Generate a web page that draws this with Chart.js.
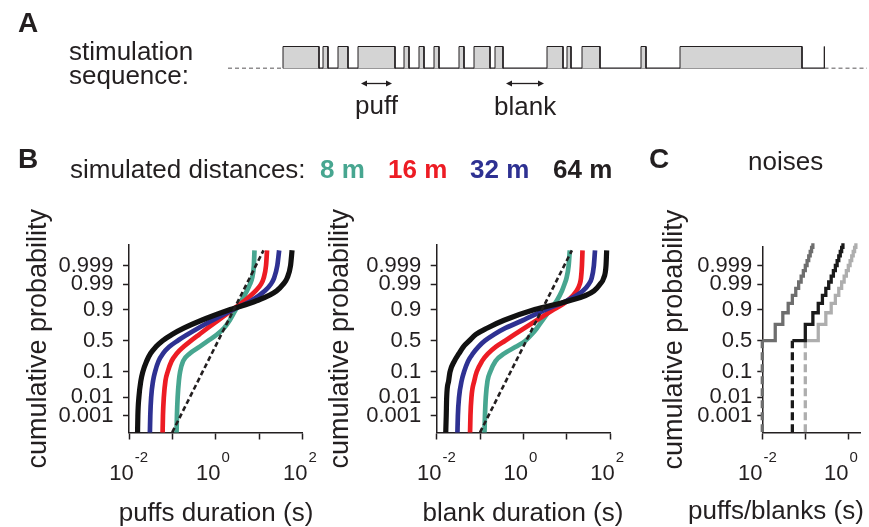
<!DOCTYPE html>
<html>
<head>
<meta charset="utf-8">
<script src="https://cdn.jsdelivr.net/npm/chart.js@4.4.1/dist/chart.umd.min.js"></script>
<style>
  html, body { margin: 0; padding: 0; background: #fff; }
  #fig { position: relative; width: 869px; height: 527px; overflow: hidden;
         font-family: "Liberation Sans", Arial, sans-serif; color: #231f20; }
  #fig canvas { position: absolute; left: 0; top: 0; }
  .t { position: absolute; white-space: nowrap; line-height: 1; font-size: 26px; }
  .c { width: 300px; text-align: center; }
  .b { font-weight: bold; }
  .panel { font-weight: bold; font-size: 28px; }
</style>
</head>
<body>
<div id="fig">
  <canvas id="seq" width="869" height="527"></canvas>
  <canvas id="puffs" width="869" height="527"></canvas>
  <canvas id="blanks" width="869" height="527"></canvas>
  <canvas id="noise" width="869" height="527"></canvas>

  <div class="t panel" style="left:18px; top:9px">A</div>
  <div class="t" style="left:69px; top:38px">stimulation</div>
  <div class="t" style="left:69px; top:62px">sequence:</div>
  <div class="t" style="left:355px; top:92px">puff</div>
  <div class="t" style="left:494px; top:93px">blank</div>

  <div class="t panel" style="left:18px; top:145px">B</div>
  <div class="t" style="left:70px; top:156px">simulated distances:</div>
  <div class="t b" style="left:320px; top:156px; color:#47a690">8 m</div>
  <div class="t b" style="left:388px; top:156px; color:#ed1c24">16 m</div>
  <div class="t b" style="left:470px; top:156px; color:#2e3192">32 m</div>
  <div class="t b" style="left:553px; top:156px; color:#231f20">64 m</div>

  <div class="t panel" style="left:649px; top:145px">C</div>
  <div class="t" style="left:748px; top:148px">noises</div>

  <div class="t c" style="left:66px; top:499px">puffs duration (s)</div>
  <div class="t c" style="left:373px; top:499px">blank duration (s)</div>
  <div class="t" style="left:688px; top:497px">puffs/blanks (s)</div>
</div>

<script>
// ---- panel A: stimulation sequence (time in arbitrary units) ----
const puffOnsets  = [0.0, 4.0, 5.5, 7.5, 12.1, 13.6, 15.1, 17.6, 19.1, 21.2, 26.4, 28.4, 29.9, 35.8, 39.7, 54.1];
const puffOffsets = [3.6, 4.5, 6.5, 11.2, 12.6, 14.1, 15.6, 18.1, 20.7, 22.0, 28.0, 28.8, 31.7, 36.3, 51.9, 54.15];
const seqView = [-5.5, 58.4];

// ---- panel B: cumulative distributions, simulated distances ----
const probLevels = [0.00005, 0.001, 0.01, 0.05, 0.1, 0.2, 0.3, 0.4, 0.5, 0.6, 0.7, 0.8, 0.9, 0.95, 0.98, 0.99, 0.995, 0.999, 0.9999];

// puff durations (s) at each probability level
const puff8m  = [0.124, 0.127, 0.132, 0.141, 0.150, 0.176, 0.251, 0.417, 0.668, 1.06, 1.55, 2.09, 2.88, 3.85, 5.19, 6.10, 6.84, 7.50, 7.76];
const puff16m = [0.0592, 0.0605, 0.0634, 0.0692, 0.0776, 0.0955, 0.126, 0.180, 0.269, 0.412, 0.653, 1.135, 2.43, 4.57, 8.22, 11.0, 12.6, 14.3, 15.1];
const puff32m = [0.0302, 0.0309, 0.0324, 0.0359, 0.0398, 0.0479, 0.0610, 0.0843, 0.132, 0.221, 0.398, 0.841, 2.48, 6.53, 13.5, 18.4, 21.9, 26.0, 28.7];
const puff64m = [0.0157, 0.0160, 0.0169, 0.0188, 0.0208, 0.0255, 0.0314, 0.0416, 0.0594, 0.0975, 0.187, 0.471, 2.15, 8.61, 25.1, 35.6, 43.7, 52.5, 56.9];

// blank durations (s) at each probability level
const blank8m  = [0.126, 0.130, 0.136, 0.149, 0.172, 0.228, 0.366, 0.668, 1.12, 1.55, 2.07, 2.76, 4.20, 5.90, 7.80, 8.90, 9.90, 11.1, 11.8];
const blank16m = [0.0587, 0.0601, 0.0634, 0.0738, 0.0838, 0.111, 0.155, 0.230, 0.380, 0.624, 1.07, 2.04, 5.01, 10.5, 17.0, 20.0, 21.4, 22.5, 23.2];
const blank32m = [0.030, 0.0308, 0.0328, 0.0377, 0.0428, 0.0529, 0.0689, 0.0916, 0.130, 0.210, 0.391, 0.982, 3.28, 10.0, 23.8, 32.2, 37.8, 42.4, 45.1];
const blank64m = [0.0161, 0.0166, 0.0170, 0.0189, 0.0203, 0.0256, 0.0328, 0.0412, 0.0568, 0.0794, 0.148, 0.358, 1.83, 11.4, 42.7, 58.8, 71.4, 80.9, 83.8];

// dashed reference (log-normal) lines
const refProbs = [0.00008, 0.9999];
const refPuff  = [0.099, 12.5];
const refBlank = [0.100, 13.2];

// ---- panel C: noise stimuli, stepped distributions ----
const noiseProbs = [0.5, 0.75, 0.875, 0.9375, 0.96875, 0.984375, 0.9921875, 0.99609, 0.99805, 0.99902, 0.99951, 0.99976, 0.99988, 0.99994, 0.99997];
const noiseFast = [0.01, 0.02, 0.03, 0.04, 0.05, 0.06, 0.07, 0.08, 0.09, 0.10, 0.11, 0.12, 0.13, 0.14, 0.15];
const noiseMid  = [0.05, 0.10, 0.15, 0.20, 0.25, 0.30, 0.35, 0.40, 0.45, 0.50, 0.55, 0.60, 0.65, 0.70, 0.75];
const noiseSlow = [0.1, 0.2, 0.3, 0.4, 0.5, 0.6, 0.7, 0.8, 0.9, 1.0, 1.1, 1.2, 1.3, 1.4, 1.5];
const noiseFloor = 0.00001;

// axis ticks
const yTickProbs  = [0.001, 0.01, 0.1, 0.5, 0.9, 0.99, 0.999];
const yTickLabels = ['0.001', '0.01', '0.1', '0.5', '0.9', '0.99', '0.999'];
const xDecadesB = [-2, -1, 0, 1, 2];
const xLabelExpB = [-2, 0, 2];
const xDecadesC = [-2, -1, 0];
const xLabelExpC = [-2, 0];

const INK = '#231f20';
const FONT = '"Liberation Sans", Arial, sans-serif';
const COL = { d8: '#47a690', d16: '#ed1c24', d32: '#2e3192', d64: '#111111' };

Chart.defaults.font.family = FONT;
Chart.defaults.color = INK;

// inverse normal CDF (Acklam), gives the probit axis
function probit(p) {
  const a = [-39.69683028665376, 220.9460984245205, -275.9285104469687, 138.3577518672690, -30.66479806614716, 2.506628277459239];
  const b = [-54.47609879822406, 161.5858368580409, -155.6989798598866, 66.80131188771972, -13.28068155288572];
  const c = [-0.007784894002430293, -0.3223964580411365, -2.400758277161838, -2.549732539343734, 4.374664141464968, 2.938163982698783];
  const d = [0.007784695709041462, 0.3224671290700398, 2.445134137142996, 3.754408661907416];
  const lo = 0.02425;
  if (p < lo) {
    const q = Math.sqrt(-2 * Math.log(p));
    return (((((c[0]*q+c[1])*q+c[2])*q+c[3])*q+c[4])*q+c[5]) / ((((d[0]*q+d[1])*q+d[2])*q+d[3])*q+1);
  }
  if (p > 1 - lo) {
    const q = Math.sqrt(-2 * Math.log(1 - p));
    return -(((((c[0]*q+c[1])*q+c[2])*q+c[3])*q+c[4])*q+c[5]) / ((((d[0]*q+d[1])*q+d[2])*q+d[3])*q+1);
  }
  const q = p - 0.5, r = q * q;
  return (((((a[0]*r+a[1])*r+a[2])*r+a[3])*r+a[4])*r+a[5])*q / (((((b[0]*r+b[1])*r+b[2])*r+b[3])*r+b[4])*r+1);
}

const toPoints = (durs, probs) => durs.map((x, i) => ({ x: x, y: probit(probs[i]) }));

// ---------------- panel A ----------------
const puffPoints = [];
puffOnsets.forEach((on, i) => {
  puffPoints.push({ x: on, y: 0 }, { x: on, y: 1 }, { x: puffOffsets[i], y: 1 }, { x: puffOffsets[i], y: 0 });
});
const lastOff = puffOffsets[puffOffsets.length - 1];

// double arrows under one puff and one blank
const arrowPlugin = {
  id: 'arrows',
  afterDraw(chart) {
    const { ctx, chartArea } = chart;
    const sx = chart.scales.x;
    const y = chartArea.bottom + 15;
    const spans = [[puffOnsets[3], puffOffsets[3]], [puffOffsets[9], puffOnsets[10]]];
    ctx.save();
    ctx.strokeStyle = INK; ctx.fillStyle = INK; ctx.lineWidth = 1.3;
    spans.forEach(([a, b]) => {
      const x0 = sx.getPixelForValue(a) + 3, x1 = sx.getPixelForValue(b) - 3;
      ctx.beginPath(); ctx.moveTo(x0 + 4, y); ctx.lineTo(x1 - 4, y); ctx.stroke();
      ctx.beginPath(); ctx.moveTo(x0, y); ctx.lineTo(x0 + 6, y - 3); ctx.lineTo(x0 + 6, y + 3); ctx.fill();
      ctx.beginPath(); ctx.moveTo(x1, y); ctx.lineTo(x1 - 6, y - 3); ctx.lineTo(x1 - 6, y + 3); ctx.fill();
    });
    ctx.restore();
  }
};

new Chart(document.getElementById('seq'), {
  type: 'line',
  data: {
    datasets: [
      { data: puffPoints, borderColor: INK, borderWidth: 1, backgroundColor: '#d4d4d4', fill: 'origin', tension: 0 },
      { data: [{ x: puffOnsets[0], y: 0 }, { x: lastOff, y: 0 }], borderColor: INK, borderWidth: 1.8 },
      { data: [{ x: seqView[0], y: 0 }, { x: puffOnsets[0], y: 0 }], borderColor: INK, borderWidth: 1.5, borderDash: [4, 3] },
      { data: [{ x: lastOff, y: 0 }, { x: seqView[1], y: 0 }], borderColor: INK, borderWidth: 1.5, borderDash: [4, 3] }
    ]
  },
  options: {
    responsive: false, animation: false,
    layout: { padding: { left: 228, right: 2, top: 44.3, bottom: 458.5 } },
    elements: { point: { radius: 0 } },
    plugins: { legend: { display: false }, tooltip: { enabled: false } },
    scales: {
      x: { type: 'linear', min: seqView[0], max: seqView[1], display: false },
      y: { min: 0, max: 1.1, display: false }
    }
  },
  plugins: [arrowPlugin]
});

// ---------------- probit plots ----------------
// "10" with a raised exponent under the labelled decades
const powerLabels = {
  id: 'powerLabels',
  afterDraw(chart, args, o) {
    const { ctx } = chart;
    const sx = chart.scales.x;
    const base = sx.top;
    ctx.save();
    ctx.fillStyle = INK;
    ctx.textBaseline = 'alphabetic';
    o.exps.forEach(e => {
      const px = sx.getPixelForValue(Math.pow(10, e)) + o.shift;
      ctx.font = o.size + 'px ' + FONT;
      ctx.textAlign = 'center';
      ctx.fillText('10', px, base + o.base);
      const w = ctx.measureText('10').width;
      ctx.font = o.expSize + 'px ' + FONT;
      ctx.textAlign = 'left';
      ctx.fillText(String(e), px + w / 2 + 1, base + o.expBase);
    });
    ctx.restore();
  }
};

function probitChart(id, cfg) {
  return new Chart(document.getElementById(id), {
    type: 'line',
    data: { datasets: cfg.datasets },
    options: {
      responsive: false, animation: false,
      layout: { padding: { left: cfg.left, top: cfg.top, right: 869 - cfg.right, bottom: 0 } },
      elements: { point: { radius: 0 } },
      plugins: {
        legend: { display: false }, tooltip: { enabled: false },
        powerLabels: { exps: cfg.labelExps, shift: cfg.labelShift, size: 22, expSize: 15, base: 47.5, expBase: 29.5 }
      },
      scales: {
        x: {
          type: 'logarithmic', min: cfg.xMin, max: cfg.xMax,
          afterBuildTicks: s => { s.ticks = cfg.decades.map(e => ({ value: Math.pow(10, e) })); },
          afterFit: s => { s.height = 527 - cfg.bottom; },
          border: { color: INK, width: 1.5 },
          grid: { drawOnChartArea: false, tickLength: 7, tickWidth: 1.5, tickColor: INK },
          ticks: { autoSkip: false, callback: () => '' }
        },
        y: {
          type: 'linear', min: cfg.zMin, max: cfg.zMax,
          afterBuildTicks: s => { s.ticks = yTickProbs.map(p => ({ value: probit(p) })); },
          afterFit: s => { s.width = cfg.axisX - cfg.left; },
          border: { color: INK, width: 1.5 },
          grid: { drawOnChartArea: false, tickLength: cfg.tickLen, tickWidth: 1.5, tickColor: INK },
          ticks: { autoSkip: false, padding: cfg.tickPad, color: INK, font: { size: cfg.tickSize },
                   callback: (v, i) => yTickLabels[i] },
          title: { display: true, text: 'cumulative probability', color: INK, font: { size: 27 },
                   padding: { top: cfg.yTitlePad, bottom: 0 } }
        }
      }
    },
    plugins: [powerLabels]
  });
}

const CLIP = { left: 6, right: 6, top: 14, bottom: 0 };
function distanceSets(series, ref) {
  return [
    { data: toPoints(ref, refProbs), borderColor: INK, borderWidth: 2.6, borderDash: [5, 3], clip: CLIP },
    { data: toPoints(series[3], probLevels), borderColor: COL.d64, borderWidth: 5.2, cubicInterpolationMode: 'monotone', clip: CLIP },
    { data: toPoints(series[2], probLevels), borderColor: COL.d32, borderWidth: 4.7, cubicInterpolationMode: 'monotone', clip: CLIP },
    { data: toPoints(series[1], probLevels), borderColor: COL.d16, borderWidth: 4.7, cubicInterpolationMode: 'monotone', clip: CLIP },
    { data: toPoints(series[0], probLevels), borderColor: COL.d8, borderWidth: 4.7, cubicInterpolationMode: 'monotone', clip: CLIP }
  ];
}

probitChart('puffs', {
  left: 0, axisX: 129, right: 302.7, top: 245, bottom: 432.5,
  xMin: 0.01, xMax: 100, zMin: -3.78, zMax: 3.94,
  decades: xDecadesB, labelExps: xLabelExpB, labelShift: -7.5,
  tickLen: 6, tickPad: 9.5, tickSize: 22, yTitlePad: 22,
  datasets: distanceSets([puff8m, puff16m, puff32m, puff64m], refPuff)
});

probitChart('blanks', {
  left: 310, axisX: 436.7, right: 610, top: 245, bottom: 432.5,
  xMin: 0.01, xMax: 100, zMin: -3.78, zMax: 3.94,
  decades: xDecadesB, labelExps: xLabelExpB, labelShift: -7.5,
  tickLen: 6, tickPad: 9.5, tickSize: 22, yTitlePad: 14,
  datasets: distanceSets([blank8m, blank16m, blank32m, blank64m], refBlank)
});

function noiseSets(durs, color) {
  return [
    { data: toPoints(durs, noiseProbs), borderColor: color, borderWidth: 3.3, stepped: 'before', clip: CLIP },
    { data: [{ x: durs[0], y: probit(noiseFloor) }, { x: durs[0], y: probit(noiseProbs[0]) }],
      borderColor: color, borderWidth: 3.3, borderDash: [8, 4], clip: CLIP }
  ];
}

probitChart('noise', {
  left: 640, axisX: 762.3, right: 860, top: 246.7, bottom: 432.5,
  xMin: 0.01, xMax: 1.87, zMin: -3.78, zMax: 3.87,
  decades: xDecadesC, labelExps: xLabelExpC, labelShift: -12,
  tickLen: 5, tickPad: 5, tickSize: 22, yTitlePad: 18,
  datasets: [].concat(noiseSets(noiseMid, '#1a1a1a'), noiseSets(noiseFast, '#6e6e6e'), noiseSets(noiseSlow, '#aeaeae'))
});
</script>
</body>
</html>
